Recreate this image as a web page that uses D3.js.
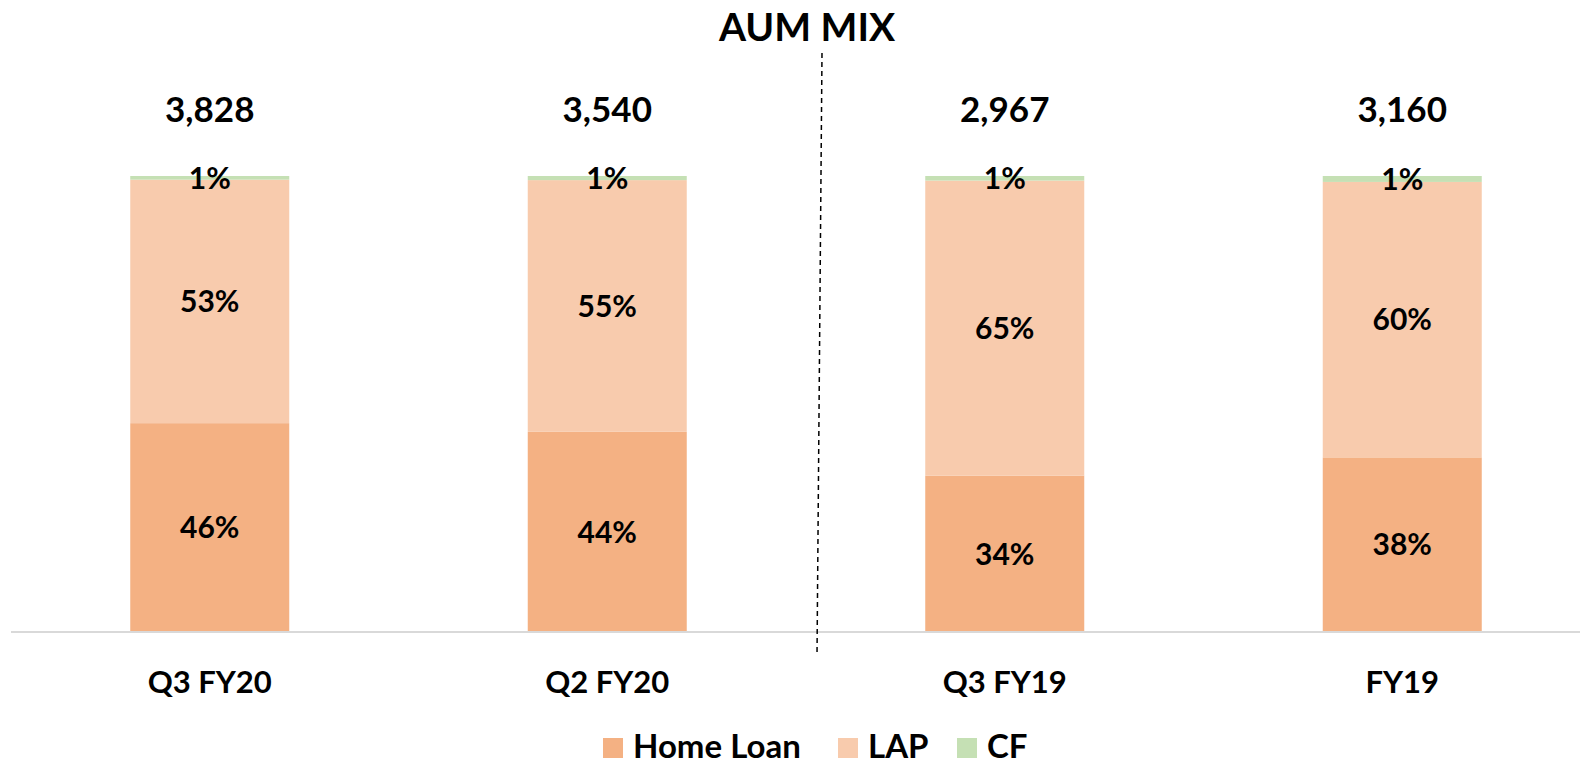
<!DOCTYPE html>
<html lang="en">
<head>
    <meta charset="UTF-8" />
    <title>AUM Mix</title>
    <script src="https://cdn.jsdelivr.net/npm/d3@7"></script>
    <style>
        body { margin: 0; background: #fff; }
        text { font-family: Lato, "Open Sans", sans-serif; font-weight: 700; fill: #000; }
    </style>
</head>
<body>
<div id="chart"></div>
<script>
    // data
    var periods = ["Q3 FY20", "Q2 FY20", "Q3 FY19", "FY19"];
    var totals = ["3,828", "3,540", "2,967", "3,160"];
    var homeLoan = [45.8, 43.9, 34.3, 38.3];
    var lap = [53.4, 55.2, 64.7, 60.4];
    var cf = [0.8, 0.9, 1.0, 1.3];
    var seriesNames = ["Home Loan", "LAP", "CF"];

    const width = 1580, height = 764;

    const svg = d3.select("#chart")
        .append("svg")
        .attr("width", width)
        .attr("height", height);

    var data = periods.map(function (p, i) {
        return { period: p, "Home Loan": homeLoan[i], "LAP": lap[i], "CF": cf[i], total: totals[i] };
    });

    var color = d3.scaleOrdinal()
        .domain(seriesNames)
        .range(["#f4b183", "#f8cbad", "#c5e0b4"]);

    var x = d3.scaleBand()
        .domain(periods)
        .range([11, 1601])
        .paddingInner(0.6)
        .paddingOuter(0.3);

    var y = d3.scaleLinear()
        .domain([0, 100])
        .range([632, 176]);

    var series = d3.stack().keys(seriesNames)(data);

    // bars
    var groups = svg.selectAll("g.stack")
        .data(series)
        .enter().append("g")
        .attr("class", "stack")
        .attr("fill", function (d) { return color(d.key); });

    groups.selectAll("rect")
        .data(function (d) { return d; })
        .enter().append("rect")
        .attr("x", function (d) { return x(d.data.period); })
        .attr("y", function (d) { return y(d[1]); })
        .attr("width", x.bandwidth())
        .attr("height", function (d) { return y(d[0]) - y(d[1]); });

    // segment labels
    groups.selectAll("text")
        .data(function (d) { return d; })
        .enter().append("text")
        .attr("x", function (d) { return x(d.data.period) + x.bandwidth() / 2; })
        .attr("y", function (d) { return (y(d[0]) + y(d[1])) / 2; })
        .attr("dy", "0.36em")
        .attr("text-anchor", "middle")
        .style("font-size", "30px")
        .text(function (d) { return Math.round(d[1] - d[0]) + "%"; });

    // totals above bars
    svg.selectAll(".total")
        .data(data)
        .enter().append("text")
        .attr("class", "total")
        .attr("x", function (d) { return x(d.period) + x.bandwidth() / 2; })
        .attr("y", 109)
        .attr("dy", "0.36em")
        .attr("text-anchor", "middle")
        .style("font-size", "35px")
        .text(function (d) { return d.total; });

    // x axis
    var xAxis = svg.append("g")
        .attr("transform", "translate(0,632)")
        .call(d3.axisBottom(x).tickSize(0).tickPadding(0));
    xAxis.select(".domain").attr("d", "M11,0H1580").attr("stroke", "#d9d9d9").attr("stroke-width", 2);
    xAxis.selectAll(".tick text")
        .attr("y", 50)
        .attr("dy", "0.36em")
        .style("font-size", "31px")
        .style("font-family", "Lato, sans-serif")
        .style("font-weight", 700)
        .attr("fill", "#000");

    // dashed divider
    svg.append("line")
        .attr("x1", 822).attr("y1", 53)
        .attr("x2", 817).attr("y2", 656)
        .attr("stroke", "#000")
        .attr("stroke-width", 1.5)
        .attr("stroke-dasharray", "5,4");

    // title
    svg.append("text")
        .attr("x", 807)
        .attr("y", 27)
        .attr("dy", "0.36em")
        .attr("text-anchor", "middle")
        .style("font-size", "39px")
        .text("AUM MIX");

    // legend
    var legendX = [603, 838, 957];
    var legend = svg.selectAll(".legend")
        .data(seriesNames)
        .enter().append("g")
        .attr("class", "legend")
        .attr("transform", function (d, i) { return "translate(" + legendX[i] + ",738)"; });

    legend.append("rect")
        .attr("width", 20)
        .attr("height", 20)
        .attr("fill", color);

    legend.append("text")
        .attr("x", 30)
        .attr("y", 8)
        .attr("dy", "0.36em")
        .style("font-size", "33px")
        .text(function (d) { return d; });
</script>
</body>
</html>
